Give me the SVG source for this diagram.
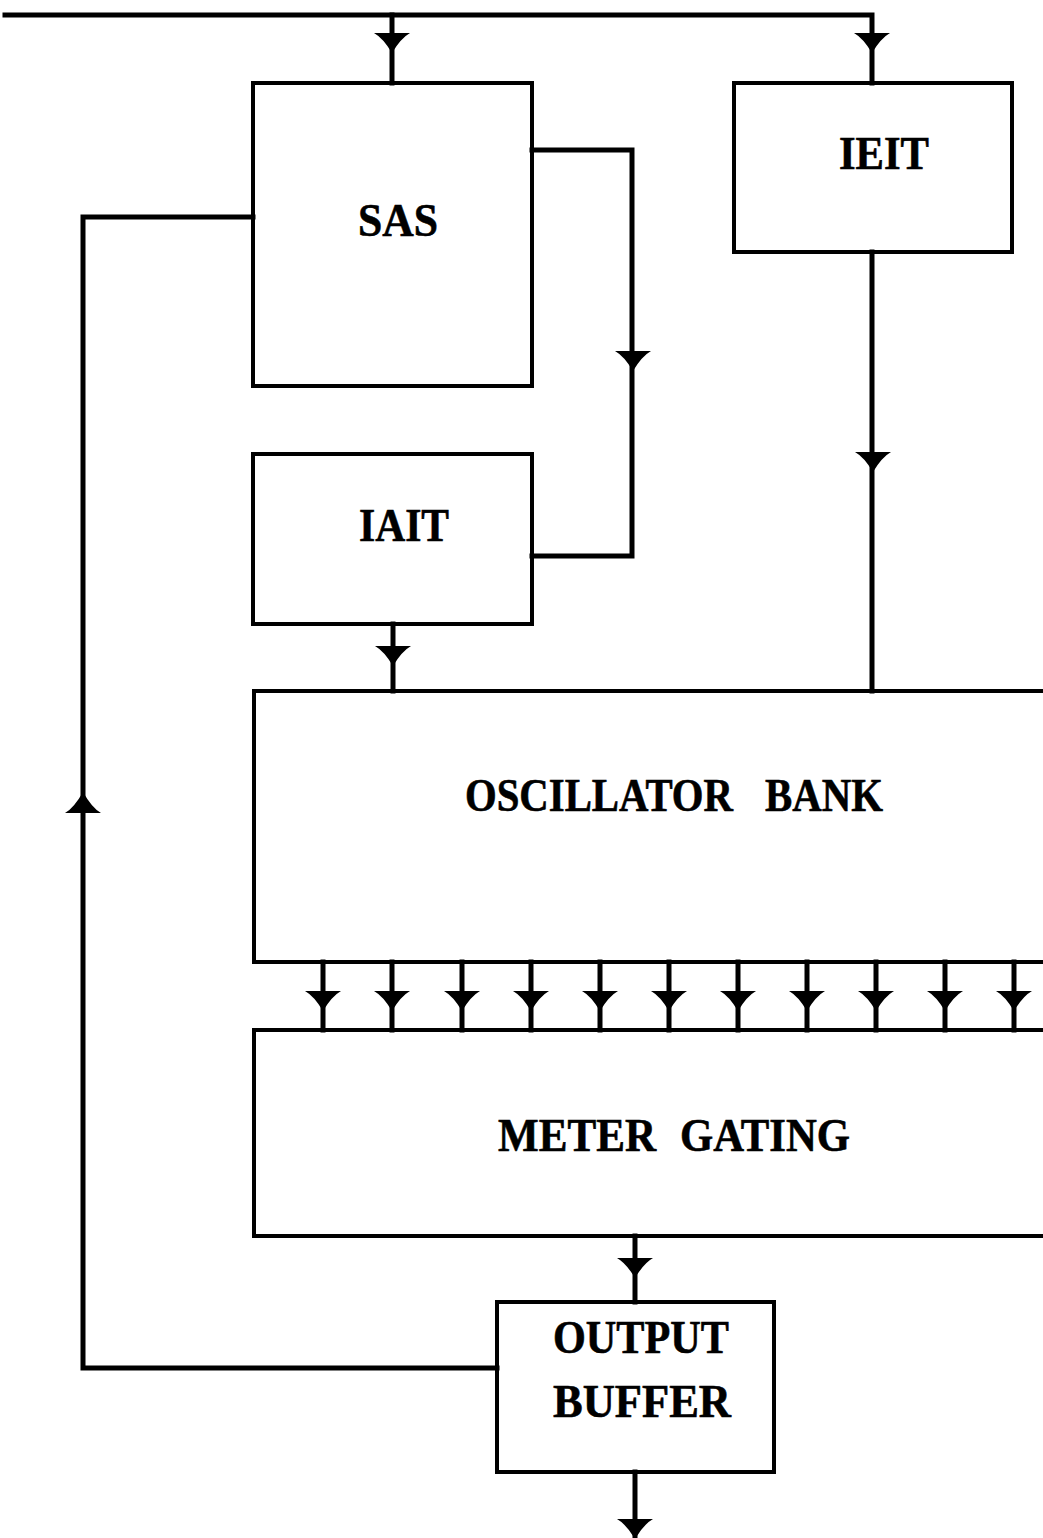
<svg xmlns="http://www.w3.org/2000/svg" width="1043" height="1538" viewBox="0 0 1043 1538">
<defs>
<style>
.box{fill:none;stroke:#000;stroke-width:4}
.wire{fill:none;stroke:#000;stroke-width:5;stroke-linecap:square;stroke-linejoin:miter}
.lbl{font-family:"Liberation Serif","Times New Roman",serif;font-weight:bold;font-size:46px;fill:#000;stroke:#000;stroke-width:0.6;text-anchor:middle}
.lbs{text-anchor:start}
.ah{fill:#000}
</style>
<path id="dn" d="M-18,0 H18 Q9,5 0,20 Q-9,5 -18,0 Z"/>
<path id="up" d="M-18,0 H18 Q9,-5 0,-21 Q-9,-5 -18,0 Z"/>
</defs>
<rect width="1043" height="1538" fill="#fff"/>
<g id="connectors">
<path class="wire" d="M5,15 H872 V83"/>
<path class="wire" d="M392,15 V83"/>
<path class="wire" d="M532,150 H632 V556 H532"/>
<path class="wire" d="M253,217 H83 V1368 H497"/>
<path class="wire" d="M393,624 V691"/>
<path class="wire" d="M872,252 V691"/>
<path class="wire" d="M635,1236 V1302"/>
<path class="wire" d="M635,1472 V1538"/>
<g id="bank-lines">
<path class="wire" d="M323,962 V1030 M392,962 V1030 M462,962 V1030 M531,962 V1030 M600,962 V1030 M669,962 V1030 M738,962 V1030 M807,962 V1030 M876,962 V1030 M945,962 V1030 M1014,962 V1030"/>
</g>
<g class="ah">
<use href="#dn" x="392" y="33"/>
<use href="#dn" x="872" y="33"/>
<use href="#dn" x="633" y="351"/>
<use href="#dn" x="873" y="452"/>
<use href="#dn" x="393" y="646"/>
<use href="#up" x="83" y="813"/>
<use href="#dn" x="635" y="1258"/>
<use href="#dn" x="635" y="1519"/>
<use href="#dn" x="323" y="991"/>
<use href="#dn" x="392" y="991"/>
<use href="#dn" x="462" y="991"/>
<use href="#dn" x="531" y="991"/>
<use href="#dn" x="600" y="991"/>
<use href="#dn" x="669" y="991"/>
<use href="#dn" x="738" y="991"/>
<use href="#dn" x="807" y="991"/>
<use href="#dn" x="876" y="991"/>
<use href="#dn" x="945" y="991"/>
<use href="#dn" x="1014" y="991"/>
</g>
</g>
<g id="sas">
<rect class="box" x="253" y="83" width="279" height="303"/>
<text class="lbl" x="398" y="236" textLength="80" lengthAdjust="spacingAndGlyphs">SAS</text>
</g>
<g id="ieit">
<rect class="box" x="734" y="83" width="278" height="169"/>
<text class="lbl" x="884" y="169" textLength="90" lengthAdjust="spacingAndGlyphs">IEIT</text>
</g>
<g id="iait">
<rect class="box" x="253" y="454" width="279" height="170"/>
<text class="lbl" x="404" y="541" textLength="90" lengthAdjust="spacingAndGlyphs">IAIT</text>
</g>
<g id="oscillator-bank">
<rect class="box" x="254" y="691" width="800" height="271"/>
<text class="lbl lbs" x="465" y="811" textLength="268" lengthAdjust="spacingAndGlyphs">OSCILLATOR</text>
<text class="lbl lbs" x="765" y="811" textLength="118" lengthAdjust="spacingAndGlyphs">BANK</text>
</g>
<g id="meter-gating">
<rect class="box" x="254" y="1030" width="800" height="206"/>
<text class="lbl lbs" x="498" y="1151" textLength="158" lengthAdjust="spacingAndGlyphs">METER</text>
<text class="lbl lbs" x="680" y="1151" textLength="170" lengthAdjust="spacingAndGlyphs">GATING</text>
</g>
<g id="output-buffer">
<rect class="box" x="497" y="1302" width="277" height="170"/>
<text class="lbl" x="641" y="1353" textLength="176" lengthAdjust="spacingAndGlyphs">OUTPUT</text>
<text class="lbl" x="642" y="1417" textLength="178" lengthAdjust="spacingAndGlyphs">BUFFER</text>
</g>
</svg>
